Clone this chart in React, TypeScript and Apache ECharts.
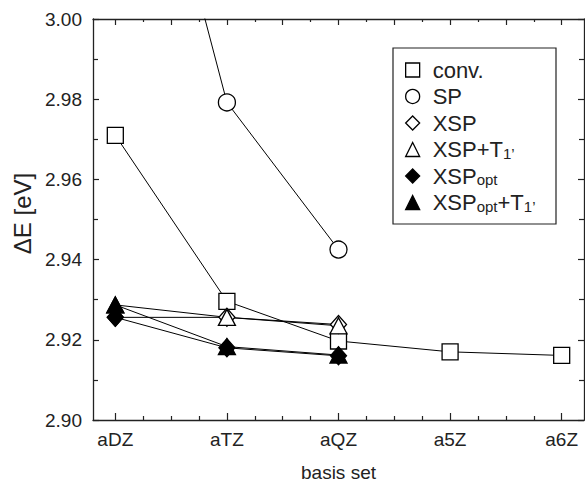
import React, { useEffect, useRef } from 'react';
import * as echarts from 'echarts';

const categories = ['aDZ', 'aTZ', 'aQZ', 'a5Z', 'a6Z'];
const yMin = 2.9;
const yMax = 3.0;
const yStep = 0.02;

const conv = [2.971, 2.9296, 2.9197, 2.917, 2.9161];
const sp = [3.085, 2.9792, 2.9425];
const xsp = [2.9256, 2.9256, 2.9238];
const xspT = [2.9287, 2.9256, 2.9235];
const xspOpt = [2.9256, 2.918, 2.916];
const xspOptT = [2.9287, 2.9183, 2.9162];

const seriesNames = ['conv.', 'SP', 'XSP', "XSP+T1'", 'XSPopt', "XSPopt+T1'"];
const legendLabels: Record<string, string> = {
  'conv.': 'conv.',
  SP: 'SP',
  XSP: 'XSP',
  "XSP+T1'": 'XSP+T{sub|1\u2019}',
  XSPopt: 'XSP{sub|opt}',
  "XSPopt+T1'": 'XSP{sub|opt}+T{sub|1\u2019}',
};

const FONT = "'Liberation Sans', Arial, Helvetica, sans-serif";
const INK = '#222';

export default function App() {
  const ref = useRef<HTMLDivElement>(null);
  useEffect(() => {
    if (!ref.current) return;
    const chart = echarts.init(ref.current, undefined, { renderer: 'svg' });
    const majorX = categories.map((_, i) => i);
    const minorX: number[] = [];
    const quarterX: number[] = [];
    const halfX: number[] = [];
    for (let i = 0; i < categories.length - 1; i++) {
      minorX.push(i + 0.25, i + 0.5, i + 0.75);
      quarterX.push(i + 0.25, i + 0.75);
      halfX.push(i + 0.5);
    }
    const toPts = (arr: number[]) => arr.map((v, i) => [i, v]);
    const mk = (
      name: string,
      data: number[],
      symbol: string,
      size: number | number[],
      filled: boolean
    ) => ({
      name,
      type: 'line',
      data: toPts(data),
      symbol,
      symbolSize: size,
      showSymbol: true,
      clip: true,
      lineStyle: { color: '#000', width: 1 },
      itemStyle: { color: filled ? '#000' : '#fff', borderColor: '#000', borderWidth: 1.3, opacity: 1 },
      emphasis: { disabled: true },
      z: 3,
    });
    const legendIcons: Record<string, [string, boolean]> = {
      'conv.': ['rect', false],
      SP: ['circle', false],
      XSP: ['diamond', false],
      "XSP+T1'": ['triangle', false],
      XSPopt: ['diamond', true],
      "XSPopt+T1'": ['triangle', true],
    };
    const xBase = {
      type: 'value',
      min: -0.2,
      max: 4.2,
      gridIndex: 0,
      splitLine: { show: false },
    };
    const lineOn = { show: true, onZero: false, lineStyle: { color: INK, width: 1.3 } };
    const lineOff = { show: false, onZero: false };
    chart.setOption({
      animation: false,
      grid: { left: 93, top: 19, right: 1, bottom: 59, containLabel: false },
      xAxis: [
        {
          ...xBase,
          position: 'bottom',
          name: 'basis set',
          nameLocation: 'middle',
          nameGap: 43,
          nameTextStyle: { fontFamily: FONT, fontSize: 19, color: INK },
          axisLine: lineOn,
          axisTick: { show: true, inside: true, length: 7, customValues: majorX, lineStyle: { color: INK, width: 1.2 } },
          axisLabel: {
            show: true,
            customValues: majorX,
            margin: 10,
            fontFamily: FONT,
            fontSize: 19,
            color: INK,
            formatter: (v: number) => categories[Math.round(v)] ?? '',
          },
        },
        {
          ...xBase,
          position: 'bottom',
          axisLine: lineOff,
          axisTick: { show: true, inside: true, length: 4, customValues: minorX, lineStyle: { color: INK, width: 1.2 } },
          axisLabel: { show: false },
        },
        {
          ...xBase,
          position: 'top',
          axisLine: lineOn,
          axisTick: { show: true, inside: true, length: 6, customValues: [...majorX, ...halfX], lineStyle: { color: INK, width: 1.2 } },
          axisLabel: { show: false },
        },
        {
          ...xBase,
          position: 'top',
          axisLine: lineOff,
          axisTick: { show: true, inside: true, length: 3, customValues: quarterX, lineStyle: { color: INK, width: 1.2 } },
          axisLabel: { show: false },
        },
      ],
      yAxis: [
        {
          type: 'value',
          position: 'left',
          min: yMin,
          max: yMax,
          interval: yStep,
          name: '\u0394E [eV]',
          nameLocation: 'middle',
          nameGap: 58,
          nameTextStyle: { fontFamily: FONT, fontSize: 24, color: INK, padding: [0, 0, 0, 12] },
          axisLine: lineOn,
          axisTick: { show: true, inside: true, length: 6, lineStyle: { color: INK, width: 1.2 } },
          minorTick: { show: true, splitNumber: 2, length: 5, lineStyle: { color: INK, width: 1.2 } },
          splitLine: { show: false },
          minorSplitLine: { show: false },
          axisLabel: {
            margin: 11,
            fontFamily: FONT,
            fontSize: 19,
            color: INK,
            formatter: (v: number) => v.toFixed(2),
          },
        },
        {
          type: 'value',
          position: 'right',
          min: yMin,
          max: yMax,
          interval: yStep,
          axisLine: lineOn,
          axisTick: { show: true, inside: true, length: 6, lineStyle: { color: INK, width: 1.2 } },
          minorTick: { show: true, splitNumber: 2, length: 5, lineStyle: { color: INK, width: 1.2 } },
          splitLine: { show: false },
          axisLabel: { show: false },
        },
      ],
      legend: {
        orient: 'vertical',
        left: 405,
        top: 59,
        padding: 0,
        itemWidth: 14,
        itemHeight: 14,
        itemGap: 4.5,
        selectedMode: false,
        data: seriesNames.map((n) => ({
          name: n,
          icon: legendIcons[n][0],
          itemStyle: { color: legendIcons[n][1] ? '#000' : '#fff', borderColor: '#000', borderWidth: 1.3 },
        })),
        formatter: (n: string) => legendLabels[n] ?? n,
        textStyle: {
          fontFamily: FONT,
          fontSize: 22,
          color: INK,
          lineHeight: 22,
          padding: [0, 0, 0, 8],
          rich: {
            sub: { fontFamily: FONT, fontSize: 15, color: INK, verticalAlign: 'bottom', lineHeight: 8 },
          },
        },
      },
      graphic: [
        {
          type: 'rect',
          shape: { x: 393, y: 48, width: 163, height: 176 },
          style: { fill: 'none', stroke: INK, lineWidth: 1.2 },
          z: 10,
        },
      ],
      series: [
        mk(seriesNames[0], conv, 'rect', 16, false),
        mk(seriesNames[1], sp, 'circle', 17, false),
        mk(seriesNames[2], xsp, 'diamond', [16, 18], false),
        mk(seriesNames[3], xspT, 'triangle', [17, 16], false),
        mk(seriesNames[4], xspOpt, 'diamond', [16, 18], true),
        mk(seriesNames[5], xspOptT, 'triangle', [17, 16], true),
      ],
    });
    return () => chart.dispose();
  }, []);
  return <div ref={ref} style={{ position: 'fixed', left: 0, top: 0, width: 585, height: 487, background: '#fff' }} />;
}
